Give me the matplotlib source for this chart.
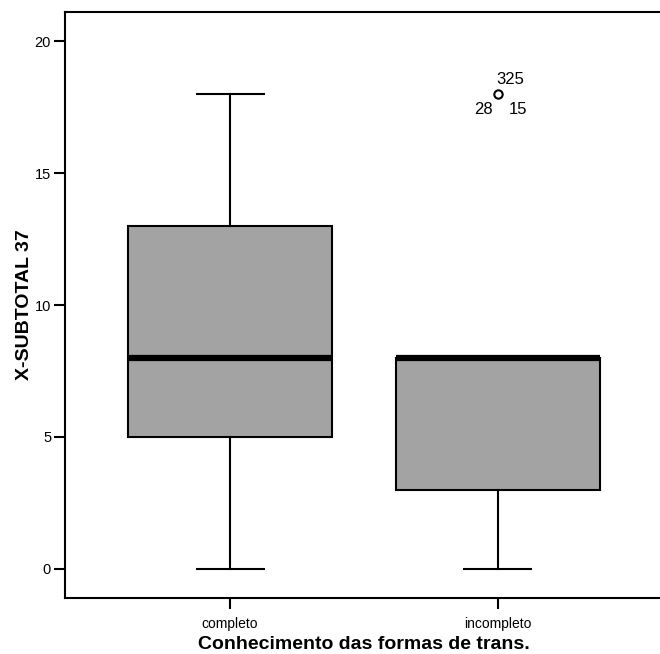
import matplotlib
matplotlib.use("Agg")
import matplotlib.pyplot as plt

plt.rcParams['font.family'] = ['Liberation Sans', 'DejaVu Sans']

categories = ["completo", "incompleto"]
whisker_low = [0, 0]
q1 = [5, 3]
median = [8, 8]
q3 = [13, 8]
whisker_high = [18, 8]
outliers = [[], [18]]
outlier_labels = ["325", "28", "15"]
yticks = [0, 5, 10, 15, 20]

fig = plt.figure(figsize=(6.6, 6.54), dpi=100)
ax = fig.add_axes([65/660, 56/654, (663-65)/660, (598-12)/654])

stats = []
for i, c in enumerate(categories):
    stats.append(dict(label=c, whislo=whisker_low[i], q1=q1[i], med=median[i],
                      q3=q3[i], whishi=whisker_high[i], fliers=outliers[i]))

ax.bxp(stats, positions=[1, 2], widths=0.76, patch_artist=True,
       boxprops=dict(facecolor="#a3a3a3", edgecolor="black", linewidth=1.5),
       medianprops=dict(color="black", linewidth=4.5, solid_capstyle="butt", zorder=5),
       whiskerprops=dict(color="black", linewidth=1.5),
       capprops=dict(color="black", linewidth=1.5),
       capwidths=0.25,
       flierprops=dict(marker="o", markerfacecolor="none", markeredgecolor="black",
                       markersize=6, markeredgewidth=1.5))

# outlier labels
fx, fy = 2, outliers[1][0]
ax.annotate(outlier_labels[0], (fx, fy), xytext=(-1, 5), textcoords="offset points",
            fontsize=12, ha="left", va="bottom")
ax.annotate(outlier_labels[1], (fx, fy), xytext=(-4, -6), textcoords="offset points",
            fontsize=12, ha="right", va="top")
ax.annotate(outlier_labels[2], (fx, fy), xytext=(7.5, -6), textcoords="offset points",
            fontsize=12, ha="left", va="top")

ax.set_xlim(0.384, 2.616)
ax.set_ylim(-1.1, 21.1)
ax.set_yticks(yticks)
ax.set_yticklabels([str(t) for t in yticks], fontsize=10.5)
ax.set_xticks([1, 2])
ax.set_xticklabels(categories, fontsize=10)
ax.tick_params(axis="both", direction="out", length=8, width=1.5)
ax.tick_params(axis="y", pad=2)
ax.tick_params(axis="x", pad=6)
for s in ["left", "top", "bottom"]:
    ax.spines[s].set_linewidth(1.5)
ax.spines["right"].set_visible(False)

ax.set_ylabel("X-SUBTOTAL 37", fontsize=14, fontweight="bold", labelpad=1)
ax.set_xlabel("Conhecimento das formas de trans.", fontsize=14, fontweight="bold", labelpad=3)

fig.savefig("out.png", dpi=100)
